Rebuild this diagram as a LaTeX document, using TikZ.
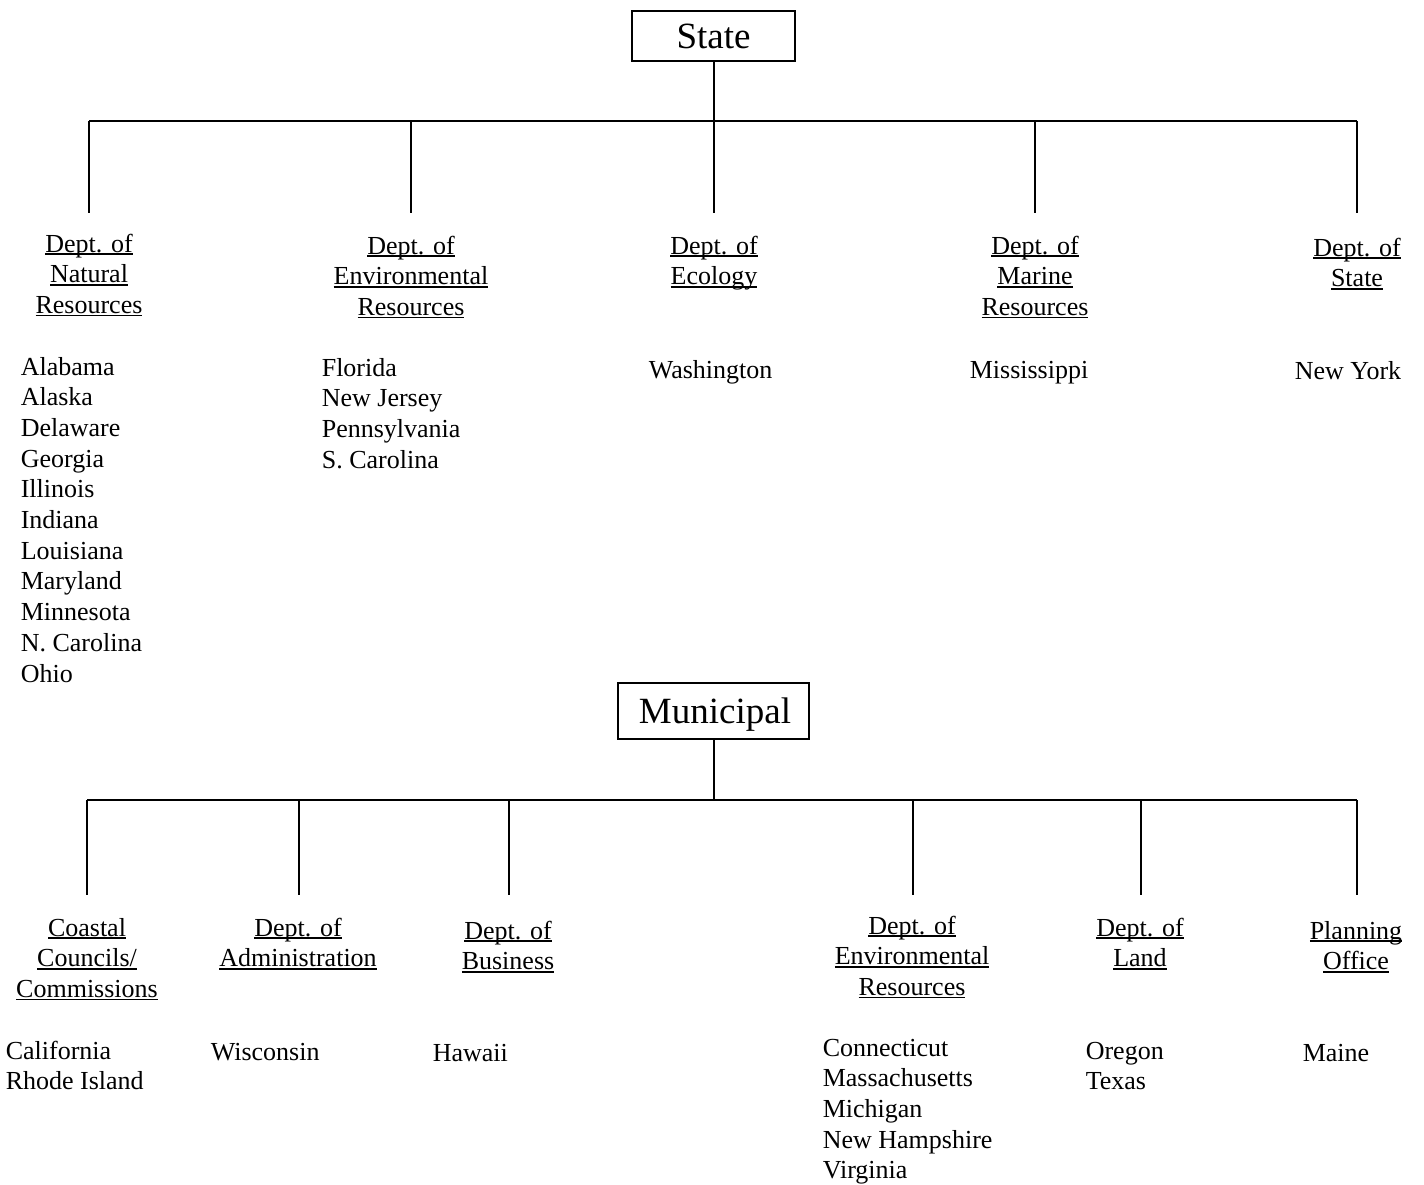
\documentclass[tikz,border=0pt]{standalone}
\usepackage{fontspec}
\setmainfont{Liberation Serif}
\newcommand\myul[1]{\setbox0=\hbox{#1}\rlap{\rule[-3pt]{\wd0}{1.7pt}}\box0}
\newcommand\deptlines[1]{\begin{tabular}[t]{@{}c@{}}#1\end{tabular}}
\newcommand\listlines[1]{\begin{tabular}[t]{@{}l@{}}#1\end{tabular}}
\begin{document}
\begin{tikzpicture}[x=1pt,y=-1pt,line width=1.6pt,
  txt/.style={inner sep=0pt,font=\fontsize{26}{30.7}\selectfont},
  dept/.style={txt,anchor=base},
  lst/.style={txt,anchor=base west},
  head/.style={draw,rectangle,line width=1.6pt,inner sep=0pt,font=\fontsize{37}{40}\selectfont,text height=25pt,text depth=0pt}]
\useasboundingbox (0,0) rectangle (1424,1184);

% ---------- State ----------
\node[head,minimum width=163pt,minimum height=50pt] (state) at (713.5,36) {State};
\coordinate (sj) at (714,121);
\foreach \n/\x in {1/89,2/411,3/714,4/1035,5/1357}{
  \coordinate (sj\n) at (\x,121);
  \coordinate (se\n) at (\x,213);
}
\draw (state.south -| sj) -- (sj);
\draw (sj1) -- (sj5);
\foreach \n in {1,...,5}{\draw (sj\n) -- (se\n);}

\node[dept] (sd1) at (89,252) {\deptlines{\myul{Dept. of}\\\myul{Natural}\\\myul{Resources}}};
\node[dept] (sd2) at (411,254) {\deptlines{\myul{Dept. of}\\\myul{Environmental}\\\myul{Resources}}};
\node[dept] (sd3) at (714,254) {\deptlines{\myul{Dept. of}\\\myul{Ecology}}};
\node[dept] (sd4) at (1035,254) {\deptlines{\myul{Dept. of}\\\myul{Marine}\\\myul{Resources}}};
\node[dept] (sd5) at (1357,256) {\deptlines{\myul{Dept. of}\\\myul{State}}};

\node[lst] (sl1) at (20,375) {\listlines{Alabama\\Alaska\\Delaware\\Georgia\\Illinois\\Indiana\\Louisiana\\Maryland\\Minnesota\\N. Carolina\\Ohio}};
\node[lst] (sl2) at (321,376) {\listlines{Florida\\New Jersey\\Pennsylvania\\S. Carolina}};
\node[lst] (sl3) at (648,378) {Washington};
\node[lst] (sl4) at (969,378) {Mississippi};
\node[lst] (sl5) at (1294,379) {New York};

% ---------- Municipal ----------
\node[head,minimum width=191pt,minimum height=56pt] (muni) at (713.5,711) {\hspace{3pt}Municipal};
\coordinate (mj) at (714,800);
\foreach \n/\x in {1/87,2/299,3/509,4/913,5/1141,6/1357}{
  \coordinate (mj\n) at (\x,800);
  \coordinate (me\n) at (\x,895);
}
\draw (muni.south -| mj) -- (mj);
\draw (mj1) -- (mj6);
\foreach \n in {1,...,6}{\draw (mj\n) -- (me\n);}

\node[dept] (md1) at (87,936) {\deptlines{\myul{Coastal}\\\myul{Councils/}\\\myul{Commissions}}};
\node[dept] (md2) at (298,936) {\deptlines{\myul{Dept. of}\\\myul{Administration}}};
\node[dept] (md3) at (508,939) {\deptlines{\myul{Dept. of}\\\myul{Business}}};
\node[dept] (md4) at (912,934) {\deptlines{\myul{Dept. of}\\\myul{Environmental}\\\myul{Resources}}};
\node[dept] (md5) at (1140,936) {\deptlines{\myul{Dept. of}\\\myul{Land}}};
\node[dept] (md6) at (1356,939) {\deptlines{\myul{Planning}\\\myul{Office}}};

\node[lst] (ml1) at (5,1059) {\listlines{California\\Rhode Island}};
\node[lst] (ml2) at (210,1060) {Wisconsin};
\node[lst] (ml3) at (432,1061) {Hawaii};
\node[lst] (ml4) at (822,1056) {\listlines{Connecticut\\Massachusetts\\Michigan\\New Hampshire\\Virginia}};
\node[lst] (ml5) at (1085,1059) {\listlines{Oregon\\Texas}};
\node[lst] (ml6) at (1302,1061) {Maine};
\end{tikzpicture}
\end{document}
